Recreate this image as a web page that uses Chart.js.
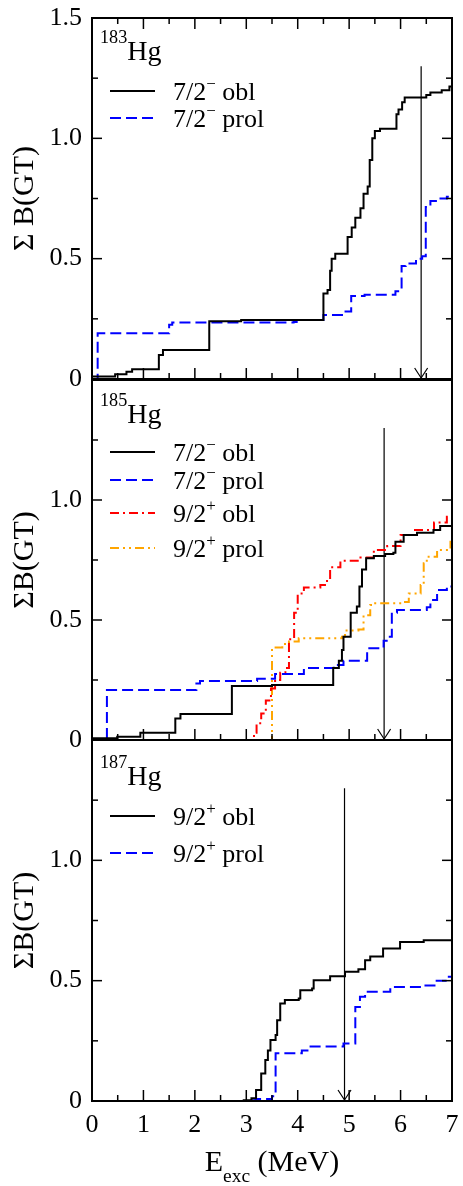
<!DOCTYPE html>
<html>
<head>
<meta charset="utf-8">
<script src="https://cdn.jsdelivr.net/npm/chart.js@4"></script>
<style>
  html, body { margin: 0; padding: 0; background: #fff; overflow: hidden; }
  canvas { position: absolute; left: 0; }
</style>
</head>
<body>
<canvas id="c183" width="463" height="413" style="top:-8px"></canvas>
<canvas id="c185" width="463" height="412" style="top:354px"></canvas>
<canvas id="c187" width="468" height="472" style="top:714px"></canvas>
<script>
// Cumulative GT strength vs excitation energy, 183/185/187Hg

// axis ticks
const yTicks = [0, 0.5, 1.0, 1.5];
const yTickText = ['0', '0.5', '1.0', '1.5'];

// Q-value arrows (MeV) and their top
const qValues = [6.40, 5.68, 4.91];
const arrowTop = 1.3;

// --- 183Hg ---
const labels183 = ['7/2^{−} obl', '7/2^{−} prol'];
const e183obl = [0, 0.45, 0.67, 0.78, 1.30, 1.38, 2.28, 2.90, 4.50, 4.58, 4.63, 4.66, 4.73, 4.97, 5.05, 5.12, 5.22, 5.28, 5.36, 5.40, 5.45, 5.50, 5.60, 5.92, 5.96, 6.03, 6.08, 6.50, 6.58, 6.80, 6.95, 7.0];
const s183obl = [0.01, 0.02, 0.03, 0.04, 0.10, 0.12, 0.24, 0.245, 0.355, 0.37, 0.45, 0.50, 0.52, 0.59, 0.63, 0.67, 0.71, 0.77, 0.80, 0.91, 1.00, 1.03, 1.04, 1.10, 1.12, 1.15, 1.17, 1.18, 1.19, 1.20, 1.215, 1.215];
const e183prol = [0, 0.11, 1.50, 1.56, 3.92, 3.98, 4.50, 4.93, 5.04, 5.30, 5.90, 6.02, 6.10, 6.30, 6.42, 6.49, 6.58, 6.75, 6.90, 7.0];
const s183prol = [0, 0.19, 0.225, 0.235, 0.237, 0.245, 0.266, 0.28, 0.345, 0.35, 0.365, 0.47, 0.48, 0.50, 0.51, 0.715, 0.74, 0.75, 0.757, 0.757];

// --- 185Hg ---
const labels185 = ['7/2^{−} obl', '7/2^{−} prol', '9/2^{+} obl', '9/2^{+} prol'];
const e185obl = [0, 0.49, 0.94, 1.62, 1.72, 2.72, 3.50, 4.69, 4.80, 4.86, 4.89, 5.03, 5.15, 5.20, 5.25, 5.33, 5.48, 5.70, 5.86, 5.90, 6.06, 6.32, 6.64, 6.77, 7.0];
const s185obl = [0.007, 0.014, 0.03, 0.09, 0.108, 0.225, 0.229, 0.30, 0.33, 0.375, 0.43, 0.53, 0.556, 0.64, 0.71, 0.757, 0.767, 0.775, 0.78, 0.826, 0.854, 0.864, 0.875, 0.892, 0.896];
const e185prol = [0, 0.29, 2.03, 2.10, 3.21, 3.56, 4.12, 4.70, 4.89, 5.35, 5.67, 5.73, 5.83, 5.93, 6.51, 6.58, 6.71, 6.90, 7.0];
const s185prol = [0, 0.208, 0.235, 0.246, 0.255, 0.275, 0.30, 0.313, 0.33, 0.382, 0.414, 0.43, 0.53, 0.542, 0.553, 0.583, 0.625, 0.64, 0.642];
const e185obl9 = [0, 3.15, 3.20, 3.29, 3.38, 3.48, 3.56, 3.66, 3.76, 3.83, 3.93, 4.00, 4.12, 4.44, 4.57, 4.63, 4.83, 5.22, 5.48, 5.74, 6.00, 6.26, 6.65, 6.90, 7.0];
const s185obl9 = [0, 0.03, 0.07, 0.11, 0.165, 0.215, 0.25, 0.28, 0.30, 0.42, 0.53, 0.61, 0.635, 0.646, 0.667, 0.72, 0.747, 0.76, 0.792, 0.808, 0.854, 0.875, 0.906, 0.93, 0.933];
const e185prol9 = [0, 3.50, 3.70, 3.83, 4.02, 4.86, 4.92, 5.18, 5.28, 5.41, 5.48, 6.06, 6.16, 6.39, 6.45, 6.51, 6.71, 6.97, 7.0];
const s185prol9 = [0, 0.385, 0.40, 0.41, 0.424, 0.43, 0.456, 0.46, 0.52, 0.5625, 0.57, 0.575, 0.61, 0.646, 0.736, 0.764, 0.792, 0.826, 0.826];

// --- 187Hg ---
const labels187 = ['9/2^{+} obl', '9/2^{+} prol'];
const e187obl = [0, 2.95, 3.10, 3.19, 3.29, 3.37, 3.42, 3.47, 3.57, 3.60, 3.66, 3.75, 4.02, 4.05, 4.28, 4.31, 4.63, 4.92, 5.18, 5.31, 5.41, 5.66, 5.99, 6.45, 7.0];
const s187obl = [0, 0.003, 0.011, 0.046, 0.114, 0.17, 0.21, 0.253, 0.274, 0.336, 0.405, 0.42, 0.426, 0.46, 0.467, 0.502, 0.518, 0.537, 0.547, 0.585, 0.60, 0.634, 0.661, 0.668, 0.675];
const e187prol = [0, 3.00, 3.18, 3.50, 3.57, 4.08, 4.25, 4.89, 5.12, 5.21, 5.31, 5.80, 6.45, 6.68, 6.90, 7.0];
const s187prol = [0, 0.003, 0.008, 0.02, 0.198, 0.21, 0.226, 0.239, 0.391, 0.433, 0.454, 0.474, 0.48, 0.50, 0.516, 0.516];

const FONT = '"Liberation Serif", "Times New Roman", serif';
Chart.defaults.font.family = FONT;
Chart.defaults.color = '#000';

const SOLID = { color: '#000000', dash: [] };
const DASH = { color: '#0000ff', dash: [11, 5] };
const DASHDOT = { color: '#ff0000', dash: [9, 4, 2, 4] };
const DASHDOTDOT = { color: '#ffa500', dash: [9, 4, 2, 4, 2, 4] };

function pts(es, ss) {
    return es.map((e, i) => ({ x: e, y: ss[i] }));
}

// cumulative sum: horizontal run to the next energy, then the jump
function series(label, es, ss, st) {
    return {
        label: label,
        data: pts(es, ss),
        borderColor: st.color,
        borderDash: st.dash,
        borderWidth: 2,
        pointRadius: 0,
        stepped: 'before',
        fill: false
    };
}

function arrowSet(q) {
    return {
        label: '',
        isArrow: true,
        data: [{ x: q, y: arrowTop }, { x: q, y: 0 }],
        borderColor: '#000',
        borderWidth: 1.2,
        pointRadius: 0
    };
}

// text with ^{sup} and _{sub}
function drawRich(ctx, str, x, y, size, raise) {
    const re = /([\^_])\{([^}]*)\}|([^\^_]+)/g;
    let m;
    while ((m = re.exec(str))) {
        if (m[3]) {
            ctx.font = size + 'px ' + FONT;
            ctx.fillText(m[3], x, y);
            x += ctx.measureText(m[3]).width;
        } else {
            const s = size * 0.65;
            ctx.font = s + 'px ' + FONT;
            const dy = m[1] === '^' ? -size * raise : size * 0.37;
            ctx.fillText(m[2], x, y + dy);
            x += ctx.measureText(m[2]).width;
        }
    }
    return x;
}

function richWidth(ctx, str, size) {
    const re = /([\^_])\{([^}]*)\}|([^\^_]+)/g;
    let m, w = 0;
    while ((m = re.exec(str))) {
        ctx.font = (m[3] ? size : size * 0.65) + 'px ' + FONT;
        w += ctx.measureText(m[3] || m[2]).width;
    }
    return w;
}

// frame, inward ticks, arrowheads, legend and labels
const decorPlugin = {
    id: 'decor',
    afterDatasetsDraw(chart, args, o) {
        const { ctx, chartArea: a, scales: { x, y } } = chart;
        ctx.save();
        ctx.strokeStyle = '#000';
        ctx.fillStyle = '#000';
        ctx.setLineDash([]);

        const seg = (x1, y1, x2, y2) => {
            ctx.beginPath();
            ctx.moveTo(x1, y1);
            ctx.lineTo(x2, y2);
            ctx.stroke();
        };

        ctx.lineWidth = 1.5;
        for (let k = 0; k <= 14; k++) {
            const px = x.getPixelForValue(k / 2);
            const len = k % 2 === 0 ? 11 : 6;
            seg(px, a.bottom, px, a.bottom - len);
            if (o.topTicks) seg(px, a.top, px, a.top + len);
        }
        for (let k = 0; k <= 6; k++) {
            const py = y.getPixelForValue(k / 4);
            const len = k % 2 === 0 ? 10 : 6;
            seg(a.left, py, a.left + len, py);
            seg(a.right, py, a.right - len, py);
        }
        ctx.lineWidth = 2;
        ctx.strokeRect(a.left, a.top, a.right - a.left, a.bottom - a.top);

        // arrowheads
        ctx.lineWidth = 1.2;
        chart.data.datasets.forEach((ds, i) => {
            if (!ds.isArrow) return;
            const p = chart.getDatasetMeta(i).data[1];
            ctx.beginPath();
            ctx.moveTo(p.x - 6.5, p.y - 11);
            ctx.lineTo(p.x, p.y - 1);
            ctx.lineTo(p.x + 6.5, p.y - 11);
            ctx.stroke();
        });

        // isotope label
        ctx.textBaseline = 'alphabetic';
        ctx.textAlign = 'left';
        drawRich(ctx, o.iso, 100, a.top + o.isoY, 28, 0.6);

        // legend
        let r = 0;
        chart.data.datasets.forEach((ds) => {
            if (ds.isArrow) return;
            const ly = a.top + o.rows[r++];
            ctx.strokeStyle = ds.borderColor;
            ctx.lineWidth = 2;
            ctx.setLineDash(ds.borderDash);
            seg(110, ly, 155, ly);
            ctx.setLineDash([]);
            ctx.fillStyle = '#000';
            drawRich(ctx, ds.label, 173, ly + 9, 26, 0.42);
        });

        // x title with subscript
        if (o.xTitle) {
            const w = richWidth(ctx, o.xTitle, 30);
            drawRich(ctx, o.xTitle, (a.left + a.right) / 2 - w / 2, a.bottom + 70, 30, 0.4);
        }
        ctx.restore();
    }
};

function makeChart(id, datasets, opt) {
    return new Chart(document.getElementById(id), {
        type: 'line',
        data: { datasets: datasets },
        options: {
            responsive: false,
            animation: false,
            layout: { padding: { left: 0, right: opt.padRight, top: 26, bottom: opt.padBottom } },
            scales: {
                x: {
                    type: 'linear',
                    min: 0,
                    max: 7,
                    display: opt.showX,
                    afterFit(s) { if (opt.showX) s.height = 85; },
                    grid: { display: false, drawTicks: false },
                    border: { display: false },
                    ticks: { stepSize: 1, padding: 9, color: '#000', font: { size: 26 } }
                },
                y: {
                    type: 'linear',
                    min: 0,
                    max: 1.5,
                    afterFit(s) { s.width = 92; },
                    grid: { display: false, drawTicks: false },
                    border: { display: false },
                    ticks: {
                        stepSize: 0.5,
                        padding: 10,
                        color: '#000',
                        font: { size: 26 },
                        callback(v) {
                            const i = yTicks.findIndex(t => Math.abs(t - v) < 1e-6);
                            if (i < 0) return '';
                            if (!opt.topLabel && i === yTicks.length - 1) return '';
                            return yTickText[i];
                        }
                    },
                    title: {
                        display: true,
                        text: opt.yTitle,
                        color: '#000',
                        font: { size: 30 },
                        padding: { top: 7, bottom: 0 }
                    }
                }
            },
            plugins: {
                legend: { display: false },
                tooltip: { enabled: false },
                decor: {
                    topTicks: opt.topTicks,
                    iso: opt.iso,
                    isoY: opt.isoY,
                    rows: opt.rows,
                    xTitle: opt.xTitle
                }
            }
        },
        plugins: [decorPlugin]
    });
}

makeChart('c183', [
    series(labels183[0], e183obl, s183obl, SOLID),
    series(labels183[1], e183prol, s183prol, DASH),
    arrowSet(qValues[0])
], { padRight: 11, padBottom: 26, showX: false, topLabel: true, topTicks: true,
     yTitle: 'Σ B(GT)', iso: '^{183}Hg', isoY: 42, rows: [73, 100] });

makeChart('c185', [
    series(labels185[0], e185obl, s185obl, SOLID),
    series(labels185[1], e185prol, s185prol, DASH),
    series(labels185[2], e185obl9, s185obl9, DASHDOT),
    series(labels185[3], e185prol9, s185prol9, DASHDOTDOT),
    arrowSet(qValues[1])
], { padRight: 11, padBottom: 26, showX: false, topLabel: false, topTicks: false,
     yTitle: 'ΣB(GT)', iso: '^{185}Hg', isoY: 43, rows: [72, 100, 133, 168] });

makeChart('c187', [
    series(labels187[0], e187obl, s187obl, SOLID),
    series(labels187[1], e187prol, s187prol, DASH),
    arrowSet(qValues[2])
], { padRight: 16, padBottom: 0, showX: true, topLabel: false, topTicks: false,
     yTitle: 'ΣB(GT)', iso: '^{187}Hg', isoY: 45, rows: [76, 113], xTitle: 'E_{exc} (MeV)' });
</script>
</body>
</html>
